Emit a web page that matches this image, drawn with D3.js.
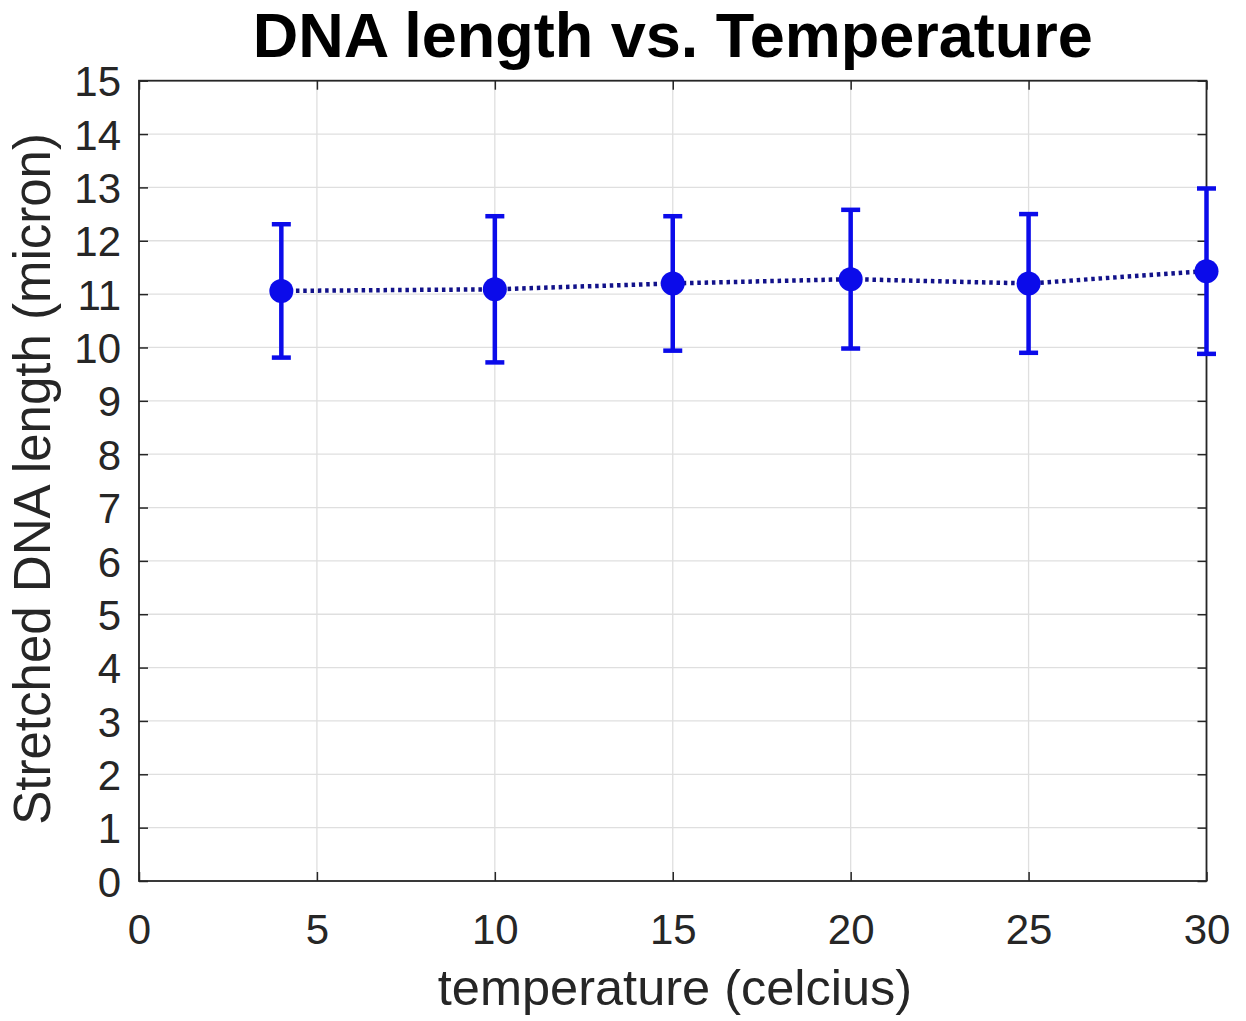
<!DOCTYPE html>
<html>
<head>
<meta charset="utf-8">
<script src="https://cdn.jsdelivr.net/npm/d3@7/dist/d3.min.js"></script>
<style>
  html, body { margin: 0; padding: 0; background: #ffffff; }
  svg { display: block; }
  text { font-family: "Liberation Sans", Arial, Helvetica, sans-serif; }
</style>
</head>
<body>
<svg id="chart" width="1246" height="1021"></svg>
<script>
// ---- data ----
const temperatures = [4, 10, 15, 20, 25, 30];
const dnaLengths   = [11.06, 11.09, 11.20, 11.28, 11.20, 11.43];
const errors       = [1.25, 1.37, 1.26, 1.30, 1.30, 1.55];
const xTicks = [0, 5, 10, 15, 20, 25, 30];
const yTicks = [0, 1, 2, 3, 4, 5, 6, 7, 8, 9, 10, 11, 12, 13, 14, 15];
const titleText = "DNA length vs. Temperature";
const xLabelText = "temperature (celcius)";
const yLabelText = "Stretched DNA length (micron)";

// ---- layout ----
const pL = 139, pR = 1206.5, pT = 80.7, pB = 881;
const svg = d3.select("#chart");
const x = d3.scaleLinear().domain([0, 30]).range([pL, pR]);
const y = d3.scaleLinear().domain([0, 15]).range([pB, pT]);

const axisColor = "#262626";
const gridColor = "#dfdfdf";

// grid
const grid = svg.append("g");
grid.selectAll("line.gx").data(xTicks).join("line")
  .attr("x1", d => x(d)).attr("x2", d => x(d))
  .attr("y1", pT).attr("y2", pB)
  .attr("stroke", gridColor).attr("stroke-width", 1.3);
grid.selectAll("line.gy").data(yTicks).join("line")
  .attr("y1", d => y(d)).attr("y2", d => y(d))
  .attr("x1", pL).attr("x2", pR)
  .attr("stroke", gridColor).attr("stroke-width", 1.3);

// axes (ticks inward) on all four sides
const tickLen = 9;
function styleAxis(g) {
  g.select(".domain").remove();
  g.selectAll(".tick line").attr("stroke", axisColor).attr("stroke-width", 1.5);
  g.selectAll(".tick text").attr("fill", axisColor)
    .style("font-family", '"Liberation Sans", Arial, sans-serif')
    .style("font-size", "42px");
}
svg.append("g").attr("transform", `translate(0,${pB})`)
  .call(d3.axisBottom(x).tickValues(xTicks).tickSize(-tickLen).tickPadding(0).tickFormat(d3.format("d")))
  .call(styleAxis)
  .call(g => g.selectAll(".tick text").attr("y", 63).attr("dy", 0));
svg.append("g").attr("transform", `translate(0,${pT})`)
  .call(d3.axisTop(x).tickValues(xTicks).tickSize(-tickLen).tickFormat(""))
  .call(styleAxis);
svg.append("g").attr("transform", `translate(${pL},0)`)
  .call(d3.axisLeft(y).tickValues(yTicks).tickSize(-tickLen).tickPadding(0).tickFormat(d3.format("d")))
  .call(styleAxis)
  .call(g => g.selectAll(".tick text").attr("x", -18).attr("dy", "0.36em"));
svg.append("g").attr("transform", `translate(${pR},0)`)
  .call(d3.axisRight(y).tickValues(yTicks).tickSize(-tickLen).tickFormat(""))
  .call(styleAxis);

// box
svg.append("rect")
  .attr("x", pL).attr("y", pT)
  .attr("width", pR - pL).attr("height", pB - pT)
  .attr("fill", "none").attr("stroke", axisColor).attr("stroke-width", 1.8);

// data
const data = temperatures.map((t, i) => ({ t, v: dnaLengths[i], e: errors[i] }));
const markColor = "#0b0bea";

// dotted line
svg.append("path")
  .datum(data)
  .attr("d", d3.line().x(d => x(d.t)).y(d => y(d.v)))
  .attr("fill", "none")
  .attr("stroke", "#12128a")
  .attr("stroke-width", 4.5)
  .attr("stroke-dasharray", "3.5,3.8");

// error bars
const eb = svg.append("g").attr("stroke", markColor).attr("stroke-width", 4.5);
const capHalf = 9.5;
eb.selectAll("line.v").data(data).join("line")
  .attr("x1", d => x(d.t)).attr("x2", d => x(d.t))
  .attr("y1", d => y(d.v - d.e)).attr("y2", d => y(d.v + d.e));
eb.selectAll("line.top").data(data).join("line")
  .attr("x1", d => x(d.t) - capHalf).attr("x2", d => x(d.t) + capHalf)
  .attr("y1", d => y(d.v + d.e)).attr("y2", d => y(d.v + d.e));
eb.selectAll("line.bot").data(data).join("line")
  .attr("x1", d => x(d.t) - capHalf).attr("x2", d => x(d.t) + capHalf)
  .attr("y1", d => y(d.v - d.e)).attr("y2", d => y(d.v - d.e));

// markers
svg.append("g").selectAll("circle").data(data).join("circle")
  .attr("cx", d => x(d.t)).attr("cy", d => y(d.v))
  .attr("r", 12).attr("fill", markColor);

// title & labels
svg.append("text")
  .attr("x", (pL + pR) / 2).attr("y", 57)
  .attr("text-anchor", "middle")
  .style("font-size", "63px").style("font-weight", "bold")
  .attr("fill", "#000")
  .text(titleText);
svg.append("text")
  .attr("x", 675).attr("y", 1005)
  .attr("text-anchor", "middle")
  .style("font-size", "50.5px")
  .attr("fill", axisColor)
  .text(xLabelText);
svg.append("text")
  .attr("transform", `translate(50,${(pT + pB) / 2 - 2}) rotate(-90)`)
  .attr("text-anchor", "middle")
  .style("font-size", "51px")
  .attr("fill", axisColor)
  .text(yLabelText);
</script>
</body>
</html>
